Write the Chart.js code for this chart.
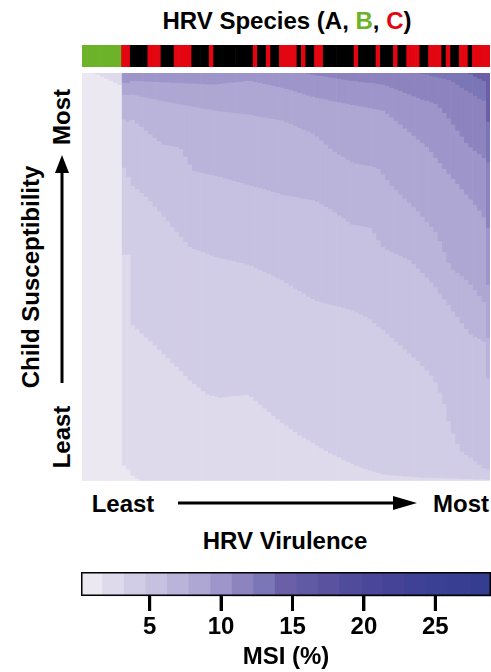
<!DOCTYPE html>
<html>
<head>
<meta charset="utf-8">
<script src="https://cdn.jsdelivr.net/npm/chart.js"></script>
<style>
  body { margin: 0; background: #fff; }
  #page { position: relative; width: 491px; height: 672px; overflow: hidden;
          font-family: "Liberation Sans", Arial, sans-serif; font-weight: bold; color: #000; }
  .box { position: absolute; }
  .lbl { position: absolute; transform: translate(-50%, -50%); white-space: nowrap; font-size: 24px; line-height: 1; }
  .rot { transform: translate(-50%, -50%) rotate(-90deg); }
</style>
</head>
<body>
<div id="page">
  <div class="lbl" style="left:287px; top:21px;">HRV Species (A, <span style="color:#6db32a">B</span>, <span style="color:#e3050f">C</span>)</div>

  <div class="box" style="left:82px; top:45px; width:408px; height:22px;"><canvas id="speciesChart"></canvas></div>
  <div class="box" style="left:82px; top:73px; width:408px; height:408px;"><canvas id="msiChart"></canvas></div>

  <div class="lbl rot" style="left:31px; top:277px;">Child Susceptibility</div>
  <div class="lbl rot" style="left:62px; top:117px;">Most</div>
  <div class="lbl rot" style="left:62px; top:437px;">Least</div>
  <div class="lbl" style="left:123px; top:504px;">Least</div>
  <div class="lbl" style="left:461px; top:504px;">Most</div>
  <div class="lbl" style="left:285px; top:541px;">HRV Virulence</div>

  <svg class="box" style="left:0; top:0;" width="491" height="560">
    <line x1="62" y1="383" x2="62" y2="168" stroke="#000" stroke-width="3"/>
    <polygon points="62,155 55,173 69,173" fill="#000"/>
    <line x1="178" y1="503" x2="400" y2="503" stroke="#000" stroke-width="3"/>
    <polygon points="417,503 393,496 393,510" fill="#000"/>
  </svg>

  <div class="box" style="left:0; top:565px; width:491px; height:107px;"><canvas id="scaleChart"></canvas></div>
  <svg id="tickOverlay" class="box" style="left:0; top:565px;" width="491" height="107"></svg>
</div>

<script>
// HRV species of each strain, left (least virulent) to right (most virulent), as runs
const speciesRuns = [['B',9],['C',2],['A',4],['C',3],['A',3],['C',4],['A',4],['C',1],['A',9],['C',1],
  ['A',2],['C',1],['A',2],['C',4],['A',1],['C',1],['A',2],['C',2],['A',7],['C',1],['A',4],['C',1],
  ['A',3],['C',1],['A',2],['C',3],['A',2],['C',3],['A',1],['C',1],['A',2],['C',2],['A',1],['C',4]];
const speciesColors = { A: '#000000', B: '#6db32a', C: '#e3050f' };

// colour bar of MSI (%)
const msiBinEdges = [0.19, 1.70, 3.21, 4.72, 6.23, 7.75, 9.26, 10.77, 12.28, 13.79, 15.30, 16.81,
  18.32, 19.83, 21.34, 22.86, 24.37, 25.88, 27.39, 28.90];
const msiColors = ['#ebe8f2','#dedaec','#d2cde6','#c6c1e0','#bab3da','#aea7d3','#9e96ca','#8d83be',
  '#7b76b6','#6b60a8','#605aa4','#5a519f','#514b9c','#4a4699','#454398','#3e4196','#3a4094','#383f93','#333e91'];
const msiTicks = [5, 10, 15, 20, 25];

// top of each MSI band per strain, in % of children ranked by susceptibility (0 = least, 100 = most)
const levelTop1 = [100,100,100,99.5,99,98.5,98,97.5,97,3.7,
  2.7,1.2,0.5,0,0,0,0,0,0,0, 0,0,0,0,0,0,0,0,0,0, 0,0,0,0,0,0,0,0,0,0,
  0,0,0,0,0,0,0,0,0,0, 0,0,0,0,0,0,0,0,0,0, 0,0,0,0,0,0,0,0,0,0,
  0,0,0,0,0,0,0,0,0,0, 0,0,0,0,0,0,0,0,0,0, 0,0,0];
const levelTop2 = [100,100,100,100,100,100,100,100,100,55.4,
  55.4,38.1,37.1,36.1,35.1,34.1,33.1,32.0,31.0,30.0,
  28.9,27.9,26.8,25.7,24.6,23.7,22.8,22.0,21.1,20.8,
  20.6,20.3,20.5,20.6,20.7,20.8,20.9,21.0,20.5,19.6,
  18.6,17.7,16.8,15.9,15.0,14.2,13.5,12.6,11.9,11.1,
  10.5,9.9,9.2,8.6,7.9,7.3,6.7,6.2,5.7,5.1,
  4.6,4.1,3.6,3.2,2.9,2.5,2.2,1.9,1.5,1.4,
  1.3,1.2,1.1,1.0,1.0,0.9,0.8,0.7,0.7,0.7,
  0.6,0.6,0.6,0.5,0.5,0.5,0.4,0.4,0.4,0.3,
  0.3,0.3,0.2];
const levelTop3 = [100,100,100,100,100,100,100,100,100,76.7,
  74.5,72.2,71.4,70.5,69.6,68.5,67.2,66.0,64.7,63.5,
  62.2,61.0,59.7,58.5,57.3,56.8,56.4,56.0,55.6,55.2,
  54.8,54.5,54.3,54.0,53.8,53.5,53.3,53.0,52.6,52.1,
  51.6,51.1,50.6,50.1,49.6,49.1,48.4,47.8,47.1,46.5,
  45.8,45.1,44.5,44.0,43.7,43.4,43.1,42.9,42.6,42.3,
  42.0,41.7,41.2,40.7,40.2,39.5,38.6,37.7,36.9,35.9,
  35.0,34.0,33.1,32.1,31.2,30.2,29.3,28.1,27.0,25.8,
  24.1,21.6,18.8,14.6,11.5,9.0,7.1,6.3,5.5,4.7,
  3.9,3.1,2.7];
const levelTop4 = [100,100,100,100,100,100,100,100,100,88.5,
  88.0,88.4,87.5,86.7,85.8,84.9,84.0,83.2,82.3,82.2,
  82.0,81.8,81.3,79.4,77.5,75.9,75.7,75.4,75.1,74.9,
  74.6,74.4,74.1,73.8,73.5,73.2,72.9,72.6,72.3,72.0,
  71.7,71.4,71.1,70.8,70.5,70.1,69.9,69.7,69.5,69.3,
  69.1,68.9,68.8,68.4,67.7,67.1,66.5,65.8,65.0,64.3,
  63.5,62.8,62.6,62.4,62.2,62.0,60.6,58.9,57.3,56.6,
  56.1,55.6,55.1,54.6,54.1,53.1,52.0,50.9,49.8,48.6,
  47.4,45.9,44.4,43.0,41.5,40.1,38.6,37.2,35.8,35.2,
  34.7,34.1,25.0];
const levelTop5 = [100,100,100,100,100,100,100,100,100,94.6,
  94.5,94.6,94.4,94.1,93.9,93.7,93.5,93.2,93.0,92.8,
  92.6,92.4,92.2,92.0,91.8,91.6,91.4,91.2,91.0,90.8,
  90.7,90.5,90.4,90.3,90.1,90.0,89.9,89.8,89.6,89.4,
  89.2,89.0,88.8,88.6,88.4,88.3,87.8,87.4,86.9,86.4,
  86.0,85.6,85.1,84.4,83.4,82.4,81.4,80.6,79.9,79.3,
  78.6,78.0,77.7,77.5,77.3,77.1,76.9,76.4,75.0,73.7,
  72.3,71.2,70.2,69.1,68.1,67.1,66.0,64.7,63.4,62.2,
  60.9,58.7,56.0,53.3,51.7,50.9,50.1,49.2,48.0,46.7,
  45.3,43.8,35.0];
const levelTop6 = [100,100,100,100,100,100,100,100,100,97.5,
  97.5,98.0,97.9,97.9,97.8,97.8,97.7,97.7,97.6,97.6,
  97.5,97.5,97.4,97.4,97.3,97.3,97.2,97.2,97.1,97.1,
  97.1,97.2,97.4,97.5,97.6,97.7,97.8,98.0,97.9,97.7,
  97.5,97.2,97.0,96.8,96.5,96.3,96.0,95.7,95.4,95.0,
  94.7,94.4,94.1,93.8,93.6,93.4,93.1,92.9,92.7,92.5,
  92.3,92.1,91.9,91.7,91.5,91.3,91.1,90.9,90.7,89.9,
  89.0,88.1,87.3,86.3,85.4,84.5,83.6,82.7,81.8,80.5,
  79.1,77.8,76.4,75.2,73.9,72.7,71.4,70.1,68.9,67.6,
  66.2,64.5,48.0];
const levelTop7 = [100,100,100,100,100,100,100,100,100,100,
  100,100,100,100,100,100,100,100,100,100, 100,100,100,100,100,100,100,100,100,100,
  100,100,100,100,100,100,100,100,100,100, 100,100,100,100,100,100,100,100,100,100,
  99.9,99.7,99.5,99.3,99.2,99.0,98.8,98.7,98.5,98.3,
  98.1,98.0,97.9,97.7,97.6,97.5,97.4,97.2,97.1,96.7,
  96.3,95.9,95.5,95.0,94.7,94.2,93.8,93.4,93.1,92.7,
  92.3,91.4,90.1,88.8,87.3,85.8,84.3,82.8,81.7,80.8,
  80.0,79.1,62.0];
const levelTop8 = [100,100,100,100,100,100,100,100,100,100,
  100,100,100,100,100,100,100,100,100,100, 100,100,100,100,100,100,100,100,100,100,
  100,100,100,100,100,100,100,100,100,100, 100,100,100,100,100,100,100,100,100,100,
  100,100,100,100,100,100,100,100,100,100, 100,100,100,100,100,100,100,100,100,100,
  100,100,100,100,100,100,100,99.7,99.5,99.2,
  99.0,98.7,98.5,98.2,97.7,97.0,96.3,95.6,95.0,94.3,
  93.6,93.1,78.0];
const levelTop9 = [100,100,100,100,100,100,100,100,100,100,
  100,100,100,100,100,100,100,100,100,100, 100,100,100,100,100,100,100,100,100,100,
  100,100,100,100,100,100,100,100,100,100, 100,100,100,100,100,100,100,100,100,100,
  100,100,100,100,100,100,100,100,100,100, 100,100,100,100,100,100,100,100,100,100,
  100,100,100,100,100,100,100,100,100,100,
  100,100,100,100,100,100,100,100,99.6,99.0,
  98.5,97.9,88.0];

// expand species runs into one entry per strain
const strainSpecies = [];
speciesRuns.forEach(([sp, n]) => { for (let i = 0; i < n; i++) strainSpecies.push(sp); });
const strainLabels = strainSpecies.map((sp, i) => 'HRV-' + sp + (i + 1));

const basePlugins = { legend: { display: false }, tooltip: { enabled: false } };

// species strip
new Chart(document.getElementById('speciesChart'), {
  type: 'bar',
  data: {
    labels: strainLabels,
    datasets: [{
      data: strainSpecies.map(() => 1),
      backgroundColor: strainSpecies.map(sp => speciesColors[sp]),
      borderWidth: 0,
      barPercentage: 1,
      categoryPercentage: 1
    }]
  },
  options: {
    responsive: true, maintainAspectRatio: false, animation: false,
    layout: { padding: 0 },
    plugins: basePlugins,
    scales: { x: { display: false }, y: { display: false, min: 0, max: 1 } }
  }
});

// heat map: one floating-bar dataset per MSI band
const levelTops = [levelTop1, levelTop2, levelTop3, levelTop4, levelTop5, levelTop6, levelTop7, levelTop8, levelTop9];
const heatDatasets = [];
for (let k = 0; k < 10; k++) {
  heatDatasets.push({
    label: 'MSI band ' + (k + 1),
    data: strainLabels.map((_, i) => [k === 0 ? 0 : levelTops[k - 1][i], k === 9 ? 100 : levelTops[k][i]]),
    backgroundColor: msiColors[k],
    borderWidth: 0,
    barPercentage: 1,
    categoryPercentage: 1,
    grouped: false
  });
}

new Chart(document.getElementById('msiChart'), {
  type: 'bar',
  data: { labels: strainLabels, datasets: heatDatasets },
  options: {
    responsive: true, maintainAspectRatio: false, animation: false,
    layout: { padding: 0 },
    plugins: basePlugins,
    scales: { x: { display: false }, y: { display: false, min: 0, max: 100 } }
  }
});

// colour bar: bins sit in the upper part of the plot, tick marks hang below them
const BAR_FROM = 0.385;
const frame = {
  id: 'frame',
  afterDatasetsDraw(chart) {
    const a = chart.chartArea, ctx = chart.ctx, ys = chart.scales.y;
    const top = ys.getPixelForValue(1), bottom = ys.getPixelForValue(BAR_FROM);
    ctx.save();
    ctx.strokeStyle = '#000';
    ctx.lineWidth = 1.5;
    ctx.strokeRect(a.left + 0.75, top + 0.75, a.right - a.left - 1.5, bottom - top - 1.5);
    ctx.restore();
  }
};

const boldFont = size => ({ family: '"Liberation Sans", Arial, sans-serif', size: size, weight: 'bold' });

const scaleChart = new Chart(document.getElementById('scaleChart'), {
  type: 'bar',
  data: {
    datasets: [{
      data: msiColors.map((c, k) => ({ x: (msiBinEdges[k] + msiBinEdges[k + 1]) / 2, y: [BAR_FROM, 1] })),
      backgroundColor: msiColors,
      borderWidth: 0,
      barPercentage: 1,
      categoryPercentage: 1
    }]
  },
  options: {
    responsive: true, maintainAspectRatio: false, animation: false,
    layout: { padding: { left: 81, right: 0, top: 7, bottom: 0 } },
    plugins: basePlugins,
    scales: {
      y: { display: false, min: 0, max: 1 },
      x: {
        type: 'linear', min: 0.19, max: 28.9, offset: false,
        afterBuildTicks: scale => { scale.ticks = msiTicks.map(v => ({ value: v })); },
        afterFit: scale => { scale.height = 61; },
        grid: { display: true, offset: false, drawOnChartArea: true, drawTicks: false, color: '#000', lineWidth: 3 },
        border: { display: false },
        ticks: { color: '#000', font: boldFont(24), padding: 2 },
        title: { display: true, text: 'MSI (%)', color: '#000', font: boldFont(24), padding: { top: 2, bottom: 0 } }
      }
    }
  },
  plugins: [frame]
});

// tick marks under the colour bar, placed with the chart's own scales
const overlay = document.getElementById('tickOverlay');
const xs = scaleChart.scales.x, ys = scaleChart.scales.y;
msiTicks.forEach(v => {
  const x = xs.getPixelForValue(v);
  const y0 = ys.getPixelForValue(BAR_FROM);
  const line = document.createElementNS('http://www.w3.org/2000/svg', 'line');
  line.setAttribute('x1', x);
  line.setAttribute('x2', x);
  line.setAttribute('y1', y0);
  line.setAttribute('y2', y0 + 15);
  line.setAttribute('stroke', '#000');
  line.setAttribute('stroke-width', 3);
  overlay.appendChild(line);
});
</script>
</body>
</html>
